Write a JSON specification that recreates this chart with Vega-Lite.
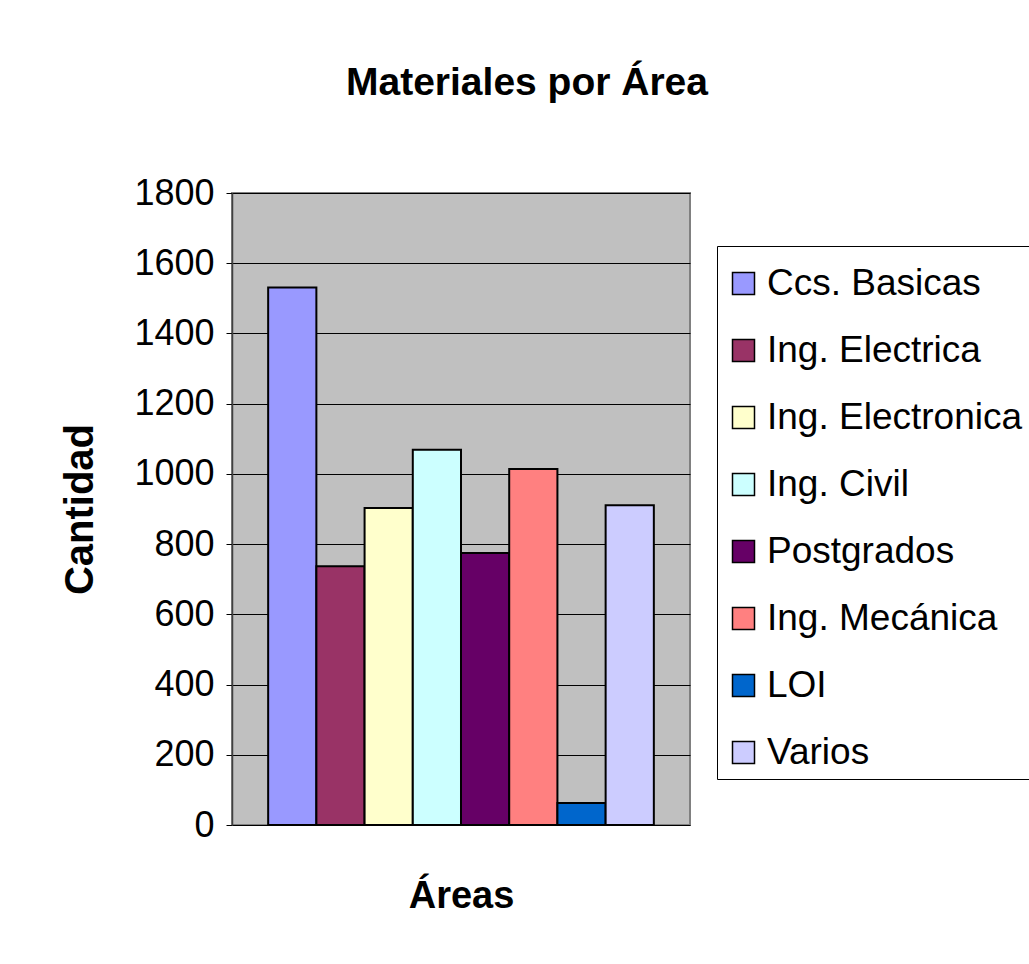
{
  "$schema": "https://vega.github.io/schema/vega-lite/v6.json",
  "autosize": {"type": "none"},
  "width": 458,
  "height": 632,
  "padding": {"left": 232, "top": 193, "right": 339, "bottom": 139},
  "background": "white",
  "title": {
    "text": "Materiales por Área",
    "font": "Liberation Sans",
    "fontSize": 39,
    "fontWeight": "bold",
    "color": "black",
    "anchor": "middle",
    "frame": "group",
    "dx": 66,
    "offset": 72
  },
  "data": {
    "values": [
      {"Area": "Ccs. Basicas", "Cantidad": 1531},
      {"Area": "Ing. Electrica", "Cantidad": 737},
      {"Area": "Ing. Electronica", "Cantidad": 903},
      {"Area": "Ing. Civil", "Cantidad": 1069},
      {"Area": "Postgrados", "Cantidad": 775},
      {"Area": "Ing. Mecánica", "Cantidad": 1014},
      {"Area": "LOI", "Cantidad": 63},
      {"Area": "Varios", "Cantidad": 911}
    ]
  },
  "mark": {"type": "bar", "stroke": "black", "strokeWidth": 2},
  "encoding": {
    "x": {
      "field": "Area",
      "type": "nominal",
      "sort": null,
      "scale": {"paddingInner": 0, "paddingOuter": 0.75},
      "axis": {
        "labels": false,
        "ticks": false,
        "domain": false,
        "title": "Áreas",
        "titleFont": "Liberation Sans",
        "titleFontSize": 38,
        "titleFontWeight": "bold",
        "titleColor": "black",
        "titlePadding": 52
      }
    },
    "y": {
      "field": "Cantidad",
      "type": "quantitative",
      "scale": {"domain": [0, 1800], "nice": false},
      "axis": {
        "values": [0, 200, 400, 600, 800, 1000, 1200, 1400, 1600, 1800],
        "format": "d",
        "grid": true,
        "gridColor": "black",
        "gridWidth": 1,
        "gridOpacity": 1,
        "domainColor": "#404040",
        "domainWidth": 1.5,
        "tickColor": "black",
        "tickSize": 6,
        "tickWidth": 1,
        "labelFont": "Liberation Sans",
        "labelFontSize": 36,
        "labelColor": "black",
        "labelPadding": 12,
        "title": "Cantidad",
        "titleFont": "Liberation Sans",
        "titleFontSize": 40,
        "titleFontWeight": "bold",
        "titleColor": "black",
        "titlePadding": 33
      }
    },
    "color": {
      "field": "Area",
      "type": "nominal",
      "scale": {
        "domain": ["Ccs. Basicas", "Ing. Electrica", "Ing. Electronica", "Ing. Civil", "Postgrados", "Ing. Mecánica", "LOI", "Varios"],
        "range": ["#9999FF", "#993366", "#FFFFCC", "#CCFFFF", "#660066", "#FF8080", "#0066CC", "#CCCCFF"]
      },
      "legend": {
        "title": " ",
        "titleFontSize": 1,
        "titlePadding": 10,
        "orient": "none",
        "legendX": 485,
        "legendY": 53,
        "strokeColor": "black",
        "fillColor": "white",
        "padding": 8,
        "symbolType": "square",
        "symbolSize": 484,
        "symbolStrokeColor": "black",
        "symbolStrokeWidth": 1.5,
        "symbolOpacity": 1,
        "labelFont": "Liberation Sans",
        "labelFontSize": 37,
        "labelColor": "black",
        "labelOffset": 5,
        "labelLimit": 400,
        "rowPadding": 29
      }
    }
  },
  "config": {
    "view": {"fill": "#C0C0C0", "stroke": "#808080", "strokeWidth": 2}
  }
}
